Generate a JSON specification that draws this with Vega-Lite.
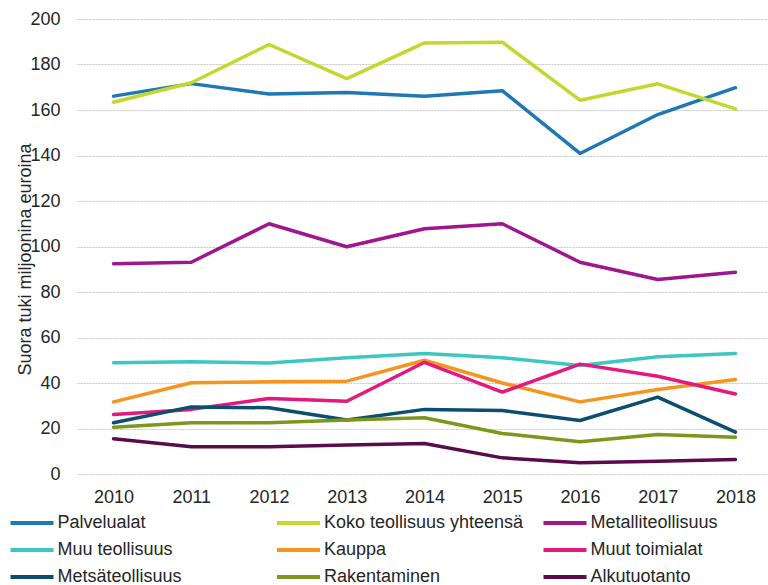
{
  "$schema": "https://vega.github.io/schema/vega-lite/v6.json",
  "autosize": {"type": "none"},
  "padding": {"left": 77, "top": 19, "right": 0, "bottom": 111},
  "width": 695,
  "height": 455,
  "background": "white",
  "config": {
    "font": "Liberation Sans",
    "view": {"stroke": null},
    "axis": {"labelFont": "Liberation Sans", "titleFont": "Liberation Sans"},
    "legend": {"labelFont": "Liberation Sans"}
  },
  "data": {
    "values": [
      {"year": "2010", "series": "Palvelualat", "value": 166.1},
      {"year": "2011", "series": "Palvelualat", "value": 171.6},
      {"year": "2012", "series": "Palvelualat", "value": 167.0},
      {"year": "2013", "series": "Palvelualat", "value": 167.7},
      {"year": "2014", "series": "Palvelualat", "value": 166.0},
      {"year": "2015", "series": "Palvelualat", "value": 168.5},
      {"year": "2016", "series": "Palvelualat", "value": 140.9},
      {"year": "2017", "series": "Palvelualat", "value": 158.0},
      {"year": "2018", "series": "Palvelualat", "value": 169.8},

      {"year": "2010", "series": "Koko teollisuus yhteensä", "value": 163.4},
      {"year": "2011", "series": "Koko teollisuus yhteensä", "value": 172.0},
      {"year": "2012", "series": "Koko teollisuus yhteensä", "value": 188.8},
      {"year": "2013", "series": "Koko teollisuus yhteensä", "value": 173.8},
      {"year": "2014", "series": "Koko teollisuus yhteensä", "value": 189.5},
      {"year": "2015", "series": "Koko teollisuus yhteensä", "value": 189.8},
      {"year": "2016", "series": "Koko teollisuus yhteensä", "value": 164.3},
      {"year": "2017", "series": "Koko teollisuus yhteensä", "value": 171.5},
      {"year": "2018", "series": "Koko teollisuus yhteensä", "value": 160.5},

      {"year": "2010", "series": "Metalliteollisuus", "value": 92.4},
      {"year": "2011", "series": "Metalliteollisuus", "value": 93.1},
      {"year": "2012", "series": "Metalliteollisuus", "value": 110.0},
      {"year": "2013", "series": "Metalliteollisuus", "value": 99.9},
      {"year": "2014", "series": "Metalliteollisuus", "value": 107.8},
      {"year": "2015", "series": "Metalliteollisuus", "value": 110.0},
      {"year": "2016", "series": "Metalliteollisuus", "value": 93.1},
      {"year": "2017", "series": "Metalliteollisuus", "value": 85.5},
      {"year": "2018", "series": "Metalliteollisuus", "value": 88.7},

      {"year": "2010", "series": "Muu teollisuus", "value": 48.9},
      {"year": "2011", "series": "Muu teollisuus", "value": 49.3},
      {"year": "2012", "series": "Muu teollisuus", "value": 48.8},
      {"year": "2013", "series": "Muu teollisuus", "value": 51.1},
      {"year": "2014", "series": "Muu teollisuus", "value": 53.0},
      {"year": "2015", "series": "Muu teollisuus", "value": 51.1},
      {"year": "2016", "series": "Muu teollisuus", "value": 47.7},
      {"year": "2017", "series": "Muu teollisuus", "value": 51.5},
      {"year": "2018", "series": "Muu teollisuus", "value": 53.0},

      {"year": "2010", "series": "Kauppa", "value": 31.7},
      {"year": "2011", "series": "Kauppa", "value": 40.1},
      {"year": "2012", "series": "Kauppa", "value": 40.5},
      {"year": "2013", "series": "Kauppa", "value": 40.8},
      {"year": "2014", "series": "Kauppa", "value": 50.0},
      {"year": "2015", "series": "Kauppa", "value": 40.0},
      {"year": "2016", "series": "Kauppa", "value": 31.7},
      {"year": "2017", "series": "Kauppa", "value": 37.1},
      {"year": "2018", "series": "Kauppa", "value": 41.5},

      {"year": "2010", "series": "Muut toimialat", "value": 26.2},
      {"year": "2011", "series": "Muut toimialat", "value": 28.4},
      {"year": "2012", "series": "Muut toimialat", "value": 33.2},
      {"year": "2013", "series": "Muut toimialat", "value": 32.0},
      {"year": "2014", "series": "Muut toimialat", "value": 49.1},
      {"year": "2015", "series": "Muut toimialat", "value": 36.0},
      {"year": "2016", "series": "Muut toimialat", "value": 48.3},
      {"year": "2017", "series": "Muut toimialat", "value": 43.0},
      {"year": "2018", "series": "Muut toimialat", "value": 35.2},

      {"year": "2010", "series": "Metsäteollisuus", "value": 22.5},
      {"year": "2011", "series": "Metsäteollisuus", "value": 29.5},
      {"year": "2012", "series": "Metsäteollisuus", "value": 29.1},
      {"year": "2013", "series": "Metsäteollisuus", "value": 23.7},
      {"year": "2014", "series": "Metsäteollisuus", "value": 28.4},
      {"year": "2015", "series": "Metsäteollisuus", "value": 27.9},
      {"year": "2016", "series": "Metsäteollisuus", "value": 23.5},
      {"year": "2017", "series": "Metsäteollisuus", "value": 33.8},
      {"year": "2018", "series": "Metsäteollisuus", "value": 18.4},

      {"year": "2010", "series": "Rakentaminen", "value": 20.6},
      {"year": "2011", "series": "Rakentaminen", "value": 22.5},
      {"year": "2012", "series": "Rakentaminen", "value": 22.5},
      {"year": "2013", "series": "Rakentaminen", "value": 23.7},
      {"year": "2014", "series": "Rakentaminen", "value": 24.7},
      {"year": "2015", "series": "Rakentaminen", "value": 17.8},
      {"year": "2016", "series": "Rakentaminen", "value": 14.2},
      {"year": "2017", "series": "Rakentaminen", "value": 17.4},
      {"year": "2018", "series": "Rakentaminen", "value": 16.2},

      {"year": "2010", "series": "Alkutuotanto", "value": 15.5},
      {"year": "2011", "series": "Alkutuotanto", "value": 12.0},
      {"year": "2012", "series": "Alkutuotanto", "value": 12.0},
      {"year": "2013", "series": "Alkutuotanto", "value": 12.8},
      {"year": "2014", "series": "Alkutuotanto", "value": 13.4},
      {"year": "2015", "series": "Alkutuotanto", "value": 7.1},
      {"year": "2016", "series": "Alkutuotanto", "value": 4.9},
      {"year": "2017", "series": "Alkutuotanto", "value": 5.6},
      {"year": "2018", "series": "Alkutuotanto", "value": 6.4}
    ]
  },
  "mark": {"type": "line", "strokeWidth": 3.5, "strokeJoin": "round", "strokeCap": "round"},
  "encoding": {
    "x": {
      "field": "year",
      "type": "ordinal",
      "scale": {"type": "point", "padding": 0.47},
      "axis": {
        "title": null,
        "labelAngle": 0,
        "ticks": false,
        "domain": false,
        "grid": false,
        "labelFontSize": 18,
        "labelColor": "#262626",
        "labelPadding": 14
      }
    },
    "y": {
      "field": "value",
      "type": "quantitative",
      "scale": {"domain": [0, 200], "nice": false},
      "axis": {
        "title": "Suora tuki miljoonina euroina",
        "titleFontSize": 18,
        "titleFontWeight": "normal",
        "titleColor": "#262626",
        "titleX": -43,
        "titleY": 240,
        "titleAngle": -90,
        "values": [0, 20, 40, 60, 80, 100, 120, 140, 160, 180, 200],
        "ticks": false,
        "domain": false,
        "labelFontSize": 18,
        "labelColor": "#262626",
        "labelPadding": 17,
        "gridColor": "#c6c6c6",
        "gridDash": [2, 1],
        "gridWidth": 1
      }
    },
    "color": {
      "field": "series",
      "type": "nominal",
      "scale": {
        "domain": ["Palvelualat", "Koko teollisuus yhteensä", "Metalliteollisuus", "Muu teollisuus", "Kauppa", "Muut toimialat", "Metsäteollisuus", "Rakentaminen", "Alkutuotanto"],
        "range": ["#1f77b4", "#c3d82e", "#a0168d", "#3cc8c0", "#f7941e", "#e5187e", "#0d4d6e", "#7b981c", "#5a0b4b"]
      },
      "legend": {
        "title": null,
        "orient": "none",
        "direction": "horizontal",
        "legendX": -57,
        "legendY": 492,
        "columns": 3,
        "gridAlign": "all",
        "columnPadding": 11.5,
        "rowPadding": 6,
        "symbolType": "M-2.15,0H2.15",
        "symbolSize": 400,
        "symbolStrokeWidth": 4,
        "labelOffset": 13.5,
        "labelFontSize": 18,
        "labelColor": "#262626",
        "labelLimit": 400
      }
    }
  }
}
